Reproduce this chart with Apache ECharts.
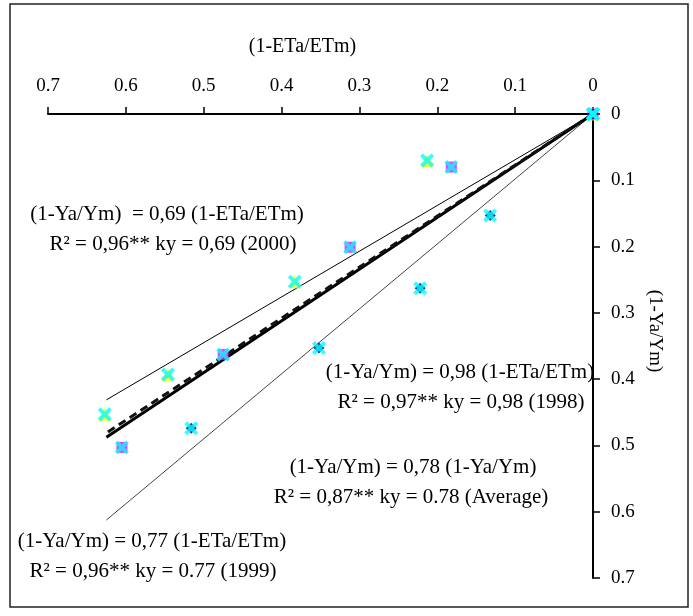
<!DOCTYPE html>
<html>
<head>
<meta charset="utf-8">
<script src="https://cdn.jsdelivr.net/npm/echarts@6/dist/echarts.min.js"></script>
<style>
  html, body { margin: 0; padding: 0; background: #fff; }
  #chart { width: 693px; height: 616px; }
</style>
</head>
<body>
<div id="chart"></div>
<script>
// (1-ETa/ETm) vs (1-Ya/Ym), one pair of arrays per year
const x2000 = [0, 0.213, 0.383, 0.546, 0.627]
const y2000 = [0, 0.070, 0.253, 0.393, 0.453]
const x1999 = [0, 0.182, 0.312, 0.475, 0.605]
const y1999 = [0, 0.080, 0.201, 0.363, 0.503]
const x1998 = [0, 0.132, 0.222, 0.352, 0.516]
const y1998 = [0, 0.153, 0.263, 0.353, 0.474]

// ky slopes of the fitted lines through the origin
const slopeNames = ['2000', '1998', 'Average', '1999']
const slopes = [0.69, 0.98, 0.78, 0.77]
const fitEnd = 0.625

const xName = '(1-ETa/ETm)'
const yName = '(1-Ya/Ym)'

const notes = [
  '(1-Ya/Ym)  = 0,69 (1-ETa/ETm)', 'R² = 0,96** ky = 0,69 (2000)',
  '(1-Ya/Ym) = 0,98 (1-ETa/ETm)', 'R² = 0,97** ky = 0,98 (1998)',
  '(1-Ya/Ym) = 0,78 (1-Ya/Ym)', 'R² = 0,87** ky = 0.78 (Average)',
  '(1-Ya/Ym) = 0,77 (1-ETa/ETm)', 'R² = 0,96** ky = 0.77 (1999)'
]
const notePos = [
  [167, 214], [173, 244],
  [460, 372], [461, 402],
  [413, 467], [411, 497],
  [152, 541], [153, 571]
]

const font = 'Liberation Serif'
const xMark = 'path://M0,2 L2,0 L5,3 L8,0 L10,2 L7,5 L10,8 L8,10 L5,7 L2,10 L0,8 L3,5 Z'

function pairs(xs, ys) {
  return xs.map((v, i) => [v, ys[i]])
}

const lineStyles = {
  '2000': { color: '#000', width: 1, type: 'solid' },
  '1998': { color: '#444', width: 1, type: 'solid' },
  'Average': { color: '#000', width: 3, type: 'solid' },
  '1999': { color: '#111', width: 3, type: [8, 5] }
}

const chart = echarts.init(document.getElementById('chart'))

var series = []

slopeNames.forEach((n, i) => {
  series.push({
    name: 'fit ' + n,
    type: 'line',
    data: [[0, 0], [fitEnd, fitEnd * slopes[i]]],
    symbol: 'none',
    lineStyle: lineStyles[n],
    z: 2,
    silent: true
  })
})

const groups = [
  { name: '2000', data: pairs(x2000, y2000), symbol: 'triangle', size: 13, color: '#ffff00' },
  { name: '1999', data: pairs(x1999, y1999), symbol: 'rect', size: 11, color: '#ff00ff' },
  { name: '1998', data: pairs(x1998, y1998), symbol: 'diamond', size: 11, color: '#000080' }
]

groups.forEach(g => {
  series.push({
    name: g.name,
    type: 'scatter',
    data: g.data,
    symbol: g.symbol,
    symbolSize: g.size,
    itemStyle: { color: g.color },
    z: 3
  })
})
groups.forEach(g => {
  series.push({
    name: g.name + ' x',
    type: 'scatter',
    data: g.data,
    symbol: xMark,
    symbolSize: 14,
    itemStyle: { color: '#00ffff' },
    z: 4
  })
})

var graphics = [{
  type: 'rect',
  shape: { x: 10, y: 4, width: 678, height: 603 },
  style: { fill: 'none', stroke: '#222', lineWidth: 1.5 },
  z: 0
}]
notes.forEach((t, i) => {
  graphics.push({
    type: 'text',
    x: notePos[i][0],
    y: notePos[i][1],
    style: {
      text: t,
      font: '21px "' + font + '"',
      fill: '#000',
      align: 'center',
      verticalAlign: 'middle'
    },
    z: 10
  })
})

var option = {
  backgroundColor: '#fff',
  animation: false,
  grid: { left: 48, right: 100, top: 114, bottom: 38 },
  xAxis: {
    type: 'value',
    position: 'top',
    inverse: true,
    min: 0,
    max: 0.7,
    interval: 0.1,
    name: xName,
    nameLocation: 'middle',
    nameGap: 57,
    nameTextStyle: { fontFamily: font, fontSize: 20, color: '#000', padding: [0, 36, 0, 0] },
    axisLine: { onZero: false, lineStyle: { color: '#000', width: 2 } },
    axisTick: { inside: false, length: 7, lineStyle: { color: '#000', width: 1.5 } },
    axisLabel: { fontFamily: font, fontSize: 19, color: '#000', margin: 18 },
    splitLine: { show: false }
  },
  yAxis: {
    type: 'value',
    position: 'right',
    inverse: true,
    min: 0,
    max: 0.7,
    interval: 0.1,
    name: yName,
    nameLocation: 'middle',
    nameGap: 52,
    nameRotate: -90,
    nameTextStyle: { fontFamily: font, fontSize: 19, color: '#000', padding: [0, 30, 0, 0] },
    axisLine: { onZero: false, lineStyle: { color: '#000', width: 2 } },
    axisTick: { inside: false, length: 7, lineStyle: { color: '#000', width: 1.5 } },
    axisLabel: { fontFamily: font, fontSize: 19, color: '#000', margin: 18 },
    splitLine: { show: false }
  },
  graphic: graphics,
  series: series
}

chart.setOption(option)
</script>
</body>
</html>
